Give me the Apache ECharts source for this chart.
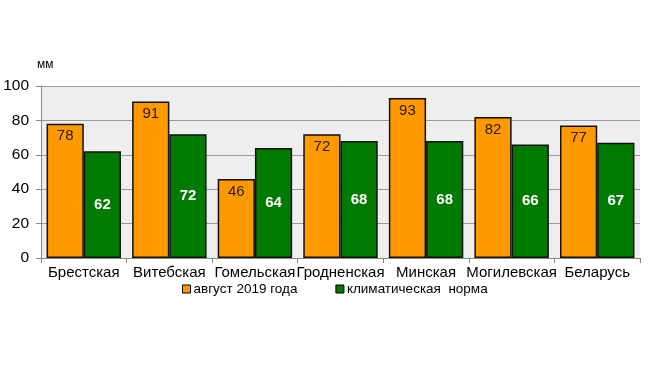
<!DOCTYPE html>
<html><head><meta charset="utf-8">
<script src="https://cdn.jsdelivr.net/npm/echarts@6/dist/echarts.min.js"></script>
<style>html,body{margin:0;padding:0;background:#fff}#c{width:649px;height:365px}</style>
</head><body><div id="c"></div>
<script>
const categories = ['Брестская','Витебская','Гомельская','Гродненская','Минская','Могилевская','Беларусь'];
const august2019 = [78,91,46,72,93,82,77];
const climateNorm = [62,72,64,68,68,66,67];
const seriesNames = ['август 2019 года','климатическая  норма'];
const yTicks = {min:0,max:100,interval:20};

const chart = echarts.init(document.getElementById('c'));
const font = 'Arial, "Liberation Sans", sans-serif';
chart.setOption({
  animation:false,
  grid:{left:41,right:9,top:86,bottom:107,show:true,backgroundColor:'#eeeeee',borderWidth:0},
  legend:{bottom:64,left:177,itemWidth:8,itemHeight:8,itemGap:38,icon:'rect',
    textStyle:{fontFamily:font,fontSize:13.5,color:'#000',padding:[0,0,0,-2]},
    data:seriesNames.map(n=>({name:n,itemStyle:{borderColor:'#000',borderWidth:1}}))},
  xAxis:{type:'category',data:categories,
    axisLine:{lineStyle:{color:'#888'}},
    axisTick:{show:true,length:5,lineStyle:{color:'#888'}},
    axisLabel:{fontFamily:font,fontSize:15,color:'#000',margin:7,interval:0}},
  yAxis:{type:'value',min:yTicks.min,max:yTicks.max,interval:yTicks.interval,
    name:'мм',nameGap:15,nameTextStyle:{fontFamily:font,fontSize:12,color:'#000',align:'left',padding:[0,0,0,-4]},
    axisLine:{show:true,lineStyle:{color:'#888'}},
    axisTick:{show:true,length:5,lineStyle:{color:'#888'}},
    splitLine:{lineStyle:{color:'#999'}},
    axisLabel:{fontFamily:font,fontSize:15.5,color:'#000',margin:12}},
  series:[
    {name:seriesNames[0],type:'bar',data:august2019,barGap:'0%',barCategoryGap:'13%',
      itemStyle:{color:'#ff9900',borderColor:'#111',borderWidth:1.5},
      label:{show:true,position:'insideTop',distance:5,fontFamily:font,fontSize:15,color:'#2a1a00'}},
    {name:seriesNames[1],type:'bar',data:climateNorm,
      itemStyle:{color:'#007a00',borderColor:'#111',borderWidth:1.5},
      label:{show:true,position:'inside',fontFamily:font,fontSize:15,fontWeight:'bold',color:'#fff'}}
  ]
});
</script></body></html>
